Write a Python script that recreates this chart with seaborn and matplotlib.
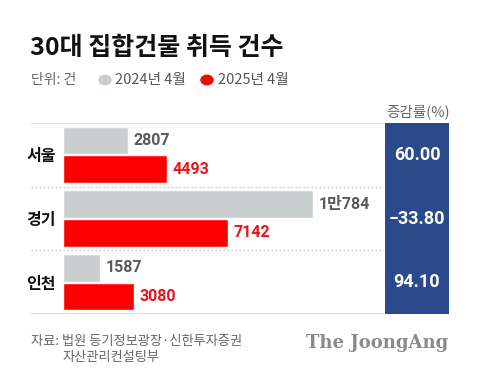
import numpy as np
import pandas as pd
import matplotlib.pyplot as plt
import seaborn as sns

regions = ['서울', '경기', '인천']
series = ['2024년 4월', '2025년 4월']
values_2024 = [2807, 10784, 1587]
values_2025 = [4493, 7142, 3080]
labels_2024 = ['2807', '1만784', '1587']
labels_2025 = ['4493', '7142', '3080']
change_pct = ['60.00', '−33.80', '94.10']

GREY = '#c9cecf'
RED = '#ff0000'
NAVY = '#2b4a8c'
NUM_FONT = ['Roboto', 'Noto Sans CJK KR', 'DejaVu Sans']

sns.set_theme(style='white')
plt.rcParams['font.family'] = ['Noto Sans CJK KR', 'DejaVu Sans']

df = pd.DataFrame({
    'region': regions * 2,
    'year': [series[0]] * 3 + [series[1]] * 3,
    'count': values_2024 + values_2025,
})

W, H = 480, 376
fig = plt.figure(figsize=(W / 100, H / 100), dpi=100)
fig.patch.set_facecolor('white')


def box(x0, y0, x1, y1):
    # pixel box (top-left origin) -> figure fraction rect
    return [x0 / W, 1 - y1 / H, (x1 - x0) / W, (y1 - y0) / H]


ax = fig.add_axes(box(31, 123, 384, 314))
sns.barplot(data=df, y='region', x='count', hue='year', orient='h',
            palette=[GREY, RED], width=0.9, gap=0.03, ax=ax,
            legend=False, saturation=1)

px_per_unit = 65 / 2807
ax.set_xlim(-32 / px_per_unit, (384 - 63) / px_per_unit)
ax.set_ylim(2.5, -0.5)
ax.set_xlabel('')
ax.set_ylabel('')
ax.set_xticks([])
ax.set_yticks(range(len(regions)))
ax.set_yticklabels(regions, fontsize=11.5, color='#111111', fontweight='bold')
ax.tick_params(axis='y', length=0, pad=-18)
for s in ax.spines.values():
    s.set_visible(False)

ax.axhline(-0.5, color='#d8d8d8', lw=1.2)
ax.axhline(2.5, color='#d8d8d8', lw=1.2)
for yy in [0.5, 1.5]:
    ax.axhline(yy, color='#c4c4c4', lw=0.9, ls=(0, (1.2, 2)))

ax.bar_label(ax.containers[0], labels=labels_2024, padding=4,
             fontsize=11.5, color='#5a5a5a', fontweight='bold', family=NUM_FONT)
ax.bar_label(ax.containers[1], labels=labels_2025, padding=4,
             fontsize=11.5, color='#e8141b', fontweight='bold', family=NUM_FONT)

# change-rate panel
pax = fig.add_axes(box(385, 123, 449, 314))
pax.set_facecolor(NAVY)
pax.set_xlim(0, 1)
pax.set_ylim(2.5, -0.5)
pax.set_xticks([])
pax.set_yticks([])
for s in pax.spines.values():
    s.set_visible(False)
for i, t in enumerate(change_pct):
    pax.text(0.5, i, t, ha='center', va='center', color='white',
             fontsize=13, fontweight='bold', family=NUM_FONT)

fig.text(418 / W, 1 - 112 / H, '증감률(%)', ha='center', va='center',
         fontsize=10.5, color='#666666')

# title and legend
fig.text(30 / W, 1 - 48 / H, '30대 집합건물 취득 건수', ha='left', va='center',
         fontsize=18, fontweight='bold', color='#111111')
fig.text(31 / W, 1 - 80 / H, '단위: 건', ha='left', va='center',
         fontsize=10, color='#666666')
for x_dot, x_txt, c, lab in [(105, 115, GREY, series[0]), (207, 218, RED, series[1])]:
    fig.patches.append(plt.Circle((x_dot / W, 1 - 80 / H), 6 / W, color=c,
                                  transform=fig.transFigure, figure=fig))
    fig.text(x_txt / W, 1 - 80 / H, lab, ha='left', va='center',
             fontsize=10.5, color='#555555')

# source and logo
fig.text(31 / W, 1 - 341 / H, '자료: 법원 등기정보광장·신한투자증권', ha='left', va='center',
         fontsize=9.5, color='#666666')
fig.text(63 / W, 1 - 358 / H, '자산관리컨설팅부', ha='left', va='center',
         fontsize=9.5, color='#666666')
fig.text(448 / W, 1 - 343 / H, 'The JoongAng', ha='right', va='center',
         fontsize=13, fontweight='bold', color='#8a8a8a',
         family=['DejaVu Serif'])

fig.savefig('out.png', dpi=100, facecolor='white')
